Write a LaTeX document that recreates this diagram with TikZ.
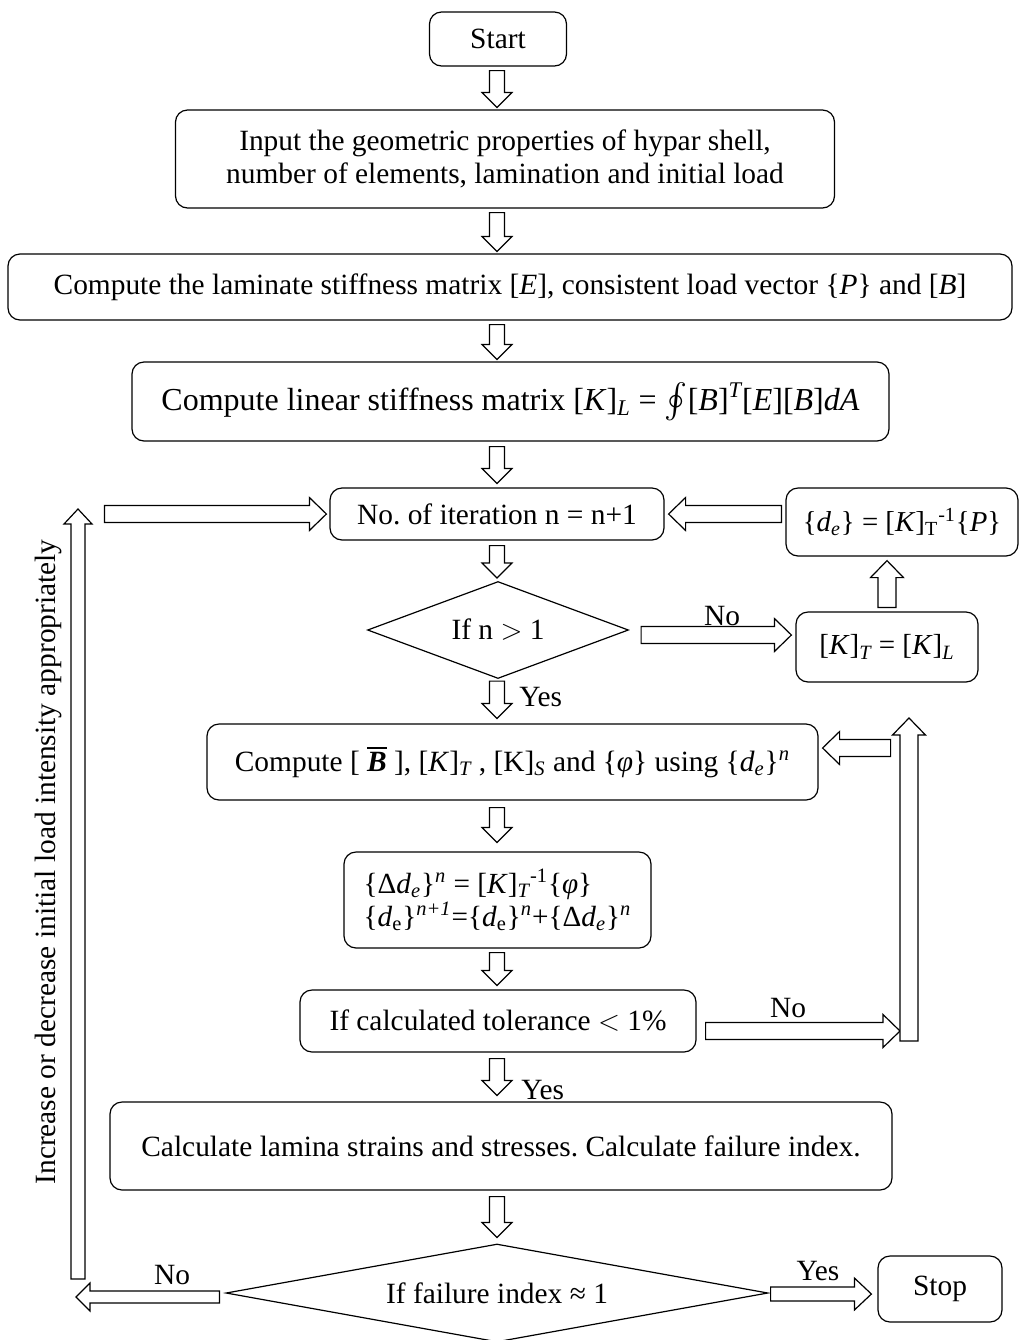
\documentclass[tikz,border=0pt]{standalone}
\usepackage{amsmath}
\usepackage{fontspec}
\setmainfont{Liberation Serif}
\usetikzlibrary{calc,shapes.geometric}
\frenchspacing
\newcommand\barrow[5]{%
  \draw[fill=white,line width=0.6pt] let \p1=#4, \p2=#5,
    \n1={atan2(\y2-\y1,\x2-\x1)}, \n2={veclen(\x2-\x1,\y2-\y1)} in
    [shift={(\p1)}, rotate=\n1]
    (0pt,-#1pt) -- (\n2-#3pt,-#1pt) -- (\n2-#3pt,-#2pt) -- (\n2,0pt)
    -- (\n2-#3pt,#2pt) -- (\n2-#3pt,#1pt) -- (0pt,#1pt) -- cycle;}
\newcommand\iv[1]{\textit{#1}}
\begin{document}
\begin{tikzpicture}[x=0.5pt,y=-0.5pt,
  box/.style={draw,rounded corners=6pt,align=center,inner sep=2pt,line width=0.6pt,
    font=\fontsize{14.7}{18}\selectfont},
  dia/.style={draw,diamond,inner sep=0pt,line width=0.6pt,font=\fontsize{14.7}{18}\selectfont},
  lab/.style={font=\fontsize{14.7}{18}\selectfont,inner sep=0pt}]
\useasboundingbox (0,0) rectangle (1020,1340);
\coordinate (col) at (497,0);
\node[box,minimum width=68.5pt,minimum height=27pt] (start) at (498,39) {Start};
\node[box,minimum width=329.5pt,minimum height=49pt,font=\fontsize{14.7}{16.8}\selectfont] (b2) at (505,159)
  {Input the geometric properties of hypar shell,\\ number of elements, lamination and initial load};
\node[box,minimum width=502pt,minimum height=33pt] (b3) at (510,287)
  {Compute the laminate stiffness matrix [\iv{E}], consistent load vector \{\iv{P}\} and [\iv{B}]};
\node[box,minimum width=378.5pt,minimum height=39.5pt,font=\fontsize{16}{19}\selectfont] (b4) at (510.5,401.5)
  {Compute linear stiffness matrix [\iv{K}]$_{\textit{L}}$ = $\oint$[\iv{B}]$^{\textit{T}}$[\iv{E}][\iv{B}]\iv{dA}};
\node[box,minimum width=167pt,minimum height=26pt] (b5) at (497,514) {No. of iteration n = n+1};
\node[box,minimum width=116pt,minimum height=34pt,font=\fontsize{14.4}{17}\selectfont] (bde) at (902,522)
  {\{\iv{d}$_{\textit{e}}$\} = [\iv{K}]$_{\mathrm{T}}$$^{\text{-1}}$\{\iv{P}\}};
\node[dia,shape aspect=2.7,minimum width=130.5pt,minimum height=48.5pt] (d1) at (498,630) {If n $>$ 1};
\node[box,minimum width=91pt,minimum height=35pt,font=\fontsize{14.5}{17}\selectfont] (bkt) at (887,647)
  {[\iv{K}]$_{\textit{T}}$ = [\iv{K}]$_{\textit{L}}$};
\node[box,minimum width=305.5pt,minimum height=38pt] (b6) at (512.5,762)
  {Compute [ $\overline{\textbf{\textit{B}}}$ ], [\iv{K}]$_{\textit{T}}$ , [K]$_{\textit{S}}$ and \{\iv{φ}\} using \{\iv{d}$_{\textit{e}}$\}$^{\textit{n}}$};
\node[box,minimum width=153.5pt,minimum height=48pt,align=left,font=\fontsize{14.6}{16.5}\selectfont] (b7) at (497.5,900)
  {\{Δ\iv{d}$_{\textit{e}}$\}$^{\textit{n}}$ = [\iv{K}]$_{\textit{T}}$$^{\text{-1}}$\{\iv{φ}\}\\
   \{\iv{d}$_{\text{e}}$\}$^{\textit{n+1}}$=\{\iv{d}$_{\text{e}}$\}$^{\textit{n}}$+\{Δ\iv{d}$_{\textit{e}}$\}$^{\textit{n}}$};
\node[box,minimum width=198pt,minimum height=31pt] (b8) at (498,1021) {If calculated tolerance $<$ 1\%};
\node[box,minimum width=391pt,minimum height=44pt] (b9) at (501,1146)
  {Calculate lamina strains and stresses. Calculate failure index.};
\node[dia,shape aspect=5.4,minimum width=271pt,minimum height=49pt] (d2) at (497,1293) {If failure index ≈ 1};
\node[box,minimum width=62pt,minimum height=33pt] (stop) at (940,1289) {Stop};
\node[lab,rotate=90] (side) at (48,862) {Increase or decrease initial load intensity appropriately};
% vertical small arrows
\barrow{3.75}{7.5}{7.5}{($(start.south -| col)+(0,4)$)}{($(b2.north -| col)+(0,-2)$)}
\barrow{3.75}{7.5}{7.5}{($(b2.south -| col)+(0,4)$)}{($(b3.north -| col)+(0,-2)$)}
\barrow{3.75}{7.5}{7.5}{($(b3.south -| col)+(0,4)$)}{($(b4.north -| col)+(0,-2)$)}
\barrow{3.75}{7.5}{7.5}{($(b4.south -| col)+(0,5)$)}{($(b5.north -| col)+(0,-4)$)}
\barrow{3.75}{7.5}{7.5}{($(b5.south -| col)+(0,5)$)}{($(d1.north -| col)+(0,-3)$)}
\barrow{3.75}{7.5}{7.5}{($(d1.south -| col)+(0,2)$)}{($(b6.north -| col)+(0,-5)$)}
\barrow{3.75}{7.5}{7.5}{($(b6.south -| col)+(0,7)$)}{($(b7.north -| col)+(0,-9)$)}
\barrow{3.75}{7.5}{7.5}{($(b7.south -| col)+(0,4)$)}{($(b8.north -| col)+(0,-4)$)}
\barrow{3.75}{7.5}{7.5}{($(b8.south -| col)+(0,6)$)}{($(b9.north -| col)+(0,-6)$)}
\barrow{3.75}{7.5}{7.5}{($(b9.south -| col)+(0,6)$)}{($(d2.north -| col)+(0,-6)$)}
\node[lab,anchor=west] (y1) at (519,697) {Yes};
\node[lab,anchor=west] (y2) at (521,1090) {Yes};
% n>1 no branch
\barrow{4.25}{8.25}{8.5}{($(d1.east)+(12,5)$)}{($(bkt.west |- d1.east)+(-4,5)$)}
\node[lab] (n1) at (722,616) {No};
\barrow{4.5}{8.25}{8.5}{($(bkt.north)+(0,-4)$)}{($(bkt.north |- bde.south)+(0,4)$)}
\barrow{4.25}{8.25}{8.5}{($(bde.west |- b5.east)+(-4,0)$)}{($(b5.east)+(4,0)$)}
% tolerance no branch
\coordinate (rb) at (909,1031);
\coordinate (rt) at (909,718);
\barrow{4.25}{8.25}{8.5}{($(b8.east |- rb)+(9,0)$)}{($(rb)+(-9,0)$)}
\node[lab] (n2) at (788,1008) {No};
\barrow{4.5}{8.25}{8.5}{($(rb)+(0,10)$)}{(rt)}
\barrow{4.25}{8.25}{8.5}{($(b6.east |- 0,748)+(72,0)$)}{($(b6.east |- 0,748)+(4,0)$)}
% failure index branches
\coordinate (lb) at (76,1297);
\coordinate (lt) at (78,509);
\barrow{3}{7}{7}{($(d2.west)+(-6,4)$)}{($(lb)$)}
\node[lab] (n3) at (172,1275) {No};
\barrow{3.5}{7}{7.5}{(78,1279)}{(lt)}
\barrow{4.25}{8.25}{8.5}{($(b5.west)+(-225,0)$)}{($(b5.west)+(-3,0)$)}
\barrow{3.5}{8}{8.5}{($(d2.east)+(2,1)$)}{($(stop.west |- d2.east)+(-6,1)$)}
\node[lab] (y3) at (818,1271) {Yes};
\end{tikzpicture}
\end{document}
